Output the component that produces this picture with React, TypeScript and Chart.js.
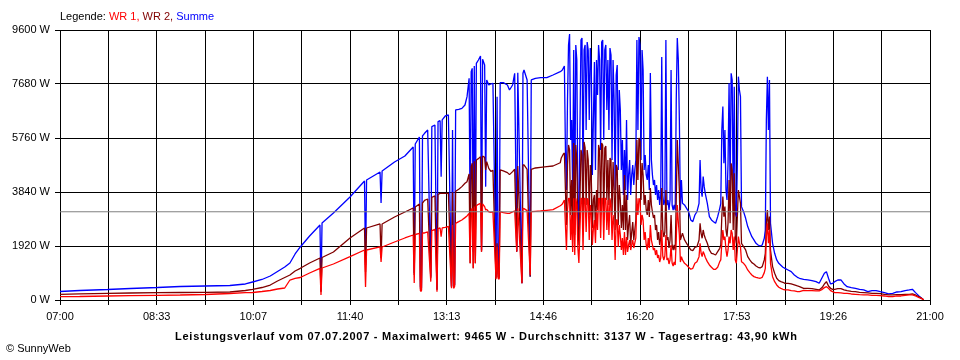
import React, { useEffect, useRef } from 'react';
import { Chart, registerables } from 'chart.js';

Chart.register(...registerables);

const FONT = '"Liberation Sans", Arial, sans-serif';

const X_LABELS = ['07:00', '08:33', '10:07', '11:40', '13:13', '14:46', '16:20', '17:53', '19:26', '21:00'];
const Y_TICKS = [0, 1920, 3840, 5760, 7680, 9600];
const X_SPAN_MIN = 840; // 07:00 .. 21:00 in minutes
const AVERAGE_W = 3137;

const TITLE = 'Leistungsverlauf vom 07.07.2007 - Maximalwert: 9465 W - Durchschnitt: 3137 W - Tagesertrag: 43,90 kWh';

// minutes after 07:00
const T = [
  0, 19, 46, 68, 94, 116, 140, 164, 179, 186, 195, 203, 210, 217, 222, 227, 232,
  241, 251, 252, 253, 264, 280, 294, 295, 296, 309, 310, 311, 323, 333, 341, 342, 343, 347, 348, 349, 350,
  352, 355, 358, 359, 362, 364, 365, 367, 368, 369, 372, 375, 378, 379, 380, 381, 382, 385, 388, 391,
  393, 395, 396, 397, 398, 399, 400, 401, 402, 404, 406, 407, 408, 410, 411, 412, 414, 416, 418, 421,
  422, 423, 424, 425, 428, 432, 434, 437, 439, 441, 442, 446, 447, 448, 451, 454, 455, 459, 464, 470, 476, 483,
  484, 485, 486, 487, 488, 489, 490, 491, 492, 493,
  494, 495, 496, 497, 498, 499, 500, 501, 502, 503,
  504, 505, 506, 507, 508, 509, 510, 511, 512, 513,
  514, 515, 516, 517, 518, 519, 520, 521, 522, 523,
  524, 525, 526, 527, 528, 529, 530, 531, 532, 533,
  534, 535, 536, 537, 538, 539, 540, 541, 542, 543,
  544, 545, 546, 547, 548, 549, 550, 551, 552, 553,
  554, 555, 556, 557, 558, 559, 560, 561, 562, 563,
  564, 565, 566, 567, 568, 569, 570, 571, 572, 573,
  574, 575, 576, 577, 578, 579, 580, 581, 582, 583,
  584, 585, 586, 587, 588, 589, 590, 591, 592, 593,
  594, 595, 596, 597, 598, 599,
  600, 601, 603, 605, 607, 609, 611, 613, 615, 617, 618, 619, 620, 621, 622, 623, 625, 627, 629, 631,
  633, 635, 637, 638, 639, 640, 641, 642, 643, 644, 645, 646, 647, 648, 649, 650, 651, 652, 653, 654,
  655, 656, 657, 658, 660, 662, 664, 666, 668, 670, 672, 674, 676, 678, 680, 681, 682, 683, 684, 685,
  686, 688, 690, 692, 694, 696, 698, 700, 703, 706, 709, 712, 714,
  718, 722, 726, 730, 733, 736, 738, 740, 742, 744, 746, 748, 751, 754, 757, 760, 764, 768, 772, 776,
  780, 784, 788, 792, 796, 800, 804, 808, 812, 816, 820, 823, 826, 829, 832, 834,
];

// Summe (W)
const SUMME = [
  302, 338, 373, 409, 444, 480, 498, 516, 569, 640, 729, 853, 1013, 1173, 1316, 1636, 1885,
  2276, 2667, 320, 2738, 3094, 3663, 4232, 1245, 4267, 4552, 3449, 4587, 4907, 5121, 5441, 960, 5547, 5796, 462, 427, 5832,
  5927, 6045, 831, 6164, 6223, 381, 6341, 6377, 4386, 6401, 6543, 6578, 476, 6045, 476, 535, 6756, 6780, 6815, 6934,
  7230, 7882, 2727, 8119, 8237, 1720, 8320, 2016, 8415, 8534, 8676, 1779, 8557, 8356, 4031, 7823, 7645, 7680, 7704, 831,
  7230, 950, 831, 7728, 7728, 7645, 7467, 7645, 8060, 1720, 8083, 594, 8060, 8178, 7823, 831, 7823, 7882, 7905, 7905, 8000, 8119,
  8143, 8179, 8250, 8321, 5334, 3912, 7112, 9068, 9459, 5690,
  6401, 3912, 8890, 2667, 9068, 8534, 3556, 2489, 6045, 9246,
  9317, 3983, 8890, 9068, 6045, 9174, 8890, 6401, 8961, 8179,
  4445, 6401, 8463, 4623, 8534, 7290, 9068, 8534, 5334, 9174,
  9246, 5690, 8890, 9068, 6756, 8534, 6045, 8961, 8712, 4978,
  8534, 7112, 3912, 8001, 8357, 4623, 7468, 6756, 4623, 5690,
  3734, 5334, 3912, 6401, 3556, 4445, 4978, 3734, 4445, 4801,
  4089, 4623, 4978, 9246, 6045, 9352, 9068, 4978, 8890, 8179,
  4623, 5156, 4445, 4267, 4801, 3912, 8072, 4978, 4445, 4089,
  4267, 3734, 4089, 3556, 3912, 3378, 3734, 8641, 3734, 3378,
  3556, 9246, 3378, 3556, 3200, 3556, 8179, 3378, 3200, 3378,
  3200, 7112, 9317, 8534, 6401, 3200,
  4268, 3438, 3379, 3260, 3142, 2846, 2786, 3023, 3142, 3438, 4979, 3912, 3675, 4386, 4031, 3794, 3438, 2964, 2846, 2786,
  2727, 2964, 3260, 3438, 6045, 6876, 4860, 6045, 3912, 3557, 4860, 7704, 3912, 8060, 7823, 3438, 7586, 3083, 2964, 4860,
  7941, 7467, 7230, 3320, 3142, 2905, 2609, 2431, 2253, 2135, 2016, 1957, 1921, 1957, 2194, 2490, 6401, 7941, 6045, 7823,
  2727, 2016, 1661, 1424, 1305, 1234, 1163, 1127, 1068, 1009, 890, 807, 772,
  736, 712, 688, 653, 594, 807, 949, 1008, 771, 570, 594, 653, 712, 712, 570, 475, 440, 416, 380, 357,
  297, 333, 333, 297, 262, 214, 238, 285, 297, 333, 357, 380, 262, 155, 60, 0,
];

// WR 2 (W)
const WR2 = [
  203, 220, 238, 249, 260, 267, 274, 284, 338, 380, 444, 533, 676, 800, 889, 1031, 1127,
  1316, 1494, 284, 1511, 1707, 2205, 2560, 996, 2560, 2703, 1494, 2703, 2951, 3129, 3272, 889, 3307, 3414, 391, 356, 3449,
  3545, 3592, 772, 3651, 3699, 357, 3758, 3794, 3794, 3794, 3794, 3794, 476, 3829, 476, 535, 3865, 3936, 4031, 4149,
  4208, 4481, 1305, 4742, 4860, 1127, 4931, 1305, 4979, 5026, 5097, 1720, 5121, 5073, 4623, 4919, 4682, 4576, 4611, 772,
  2016, 831, 772, 4623, 4588, 4528, 4457, 4564, 4647, 1720, 4765, 594, 4801, 4801, 4647, 831, 4647, 4694, 4718, 4742, 4765, 4880,
  5050, 5121, 5192, 5227, 3912, 2667, 4801, 5512, 5334, 3023,
  4267, 2560, 5583, 2311, 5512, 4978, 2667, 1956, 3556, 5334,
  5156, 2489, 5619, 5405, 3378, 5334, 4978, 3023, 4801, 4267,
  2560, 3556, 3734, 2489, 3912, 3200, 5512, 5334, 3023, 5583,
  5512, 2845, 5405, 5476, 3556, 4978, 3378, 5050, 4978, 3023,
  4907, 3912, 2489, 4801, 4694, 2667, 4089, 3556, 2560, 3378,
  2489, 4445, 2489, 3734, 2133, 2667, 3023, 1956, 2418, 2774,
  2133, 2489, 2845, 5690, 4267, 5761, 5619, 3556, 4872, 4445,
  3378, 3734, 3200, 3023, 3556, 2951, 3983, 3378, 3129, 2916,
  3023, 2489, 2667, 2133, 2418, 1956, 2205, 3983, 2489, 2240,
  2418, 3912, 2133, 2240, 1849, 2133, 3023, 1956, 1778, 1956,
  1778, 3556, 5690, 4801, 3912, 2133,
  2253, 2372, 2135, 2016, 1898, 1779, 1755, 1874, 1898, 2135, 2727, 2372, 2194, 2490, 2312, 2194, 2016, 1779, 1661, 1637,
  1601, 1720, 1838, 1957, 2964, 3675, 2964, 3320, 2490, 2253, 2727, 4268, 2727, 4860, 4623, 2490, 4505, 2253, 2016, 2964,
  3912, 3675, 3438, 2016, 1898, 1779, 1542, 1424, 1329, 1281, 1210, 1163, 1139, 1187, 1424, 1661, 2727, 3201, 2490, 2964,
  1779, 1187, 950, 772, 689, 653, 630, 594, 594, 570, 535, 499, 476,
  416, 416, 404, 380, 357, 451, 570, 653, 499, 416, 380, 380, 404, 404, 357, 333, 309, 297, 274, 262,
  250, 238, 238, 226, 202, 179, 179, 190, 190, 202, 202, 214, 179, 119, 60, 0,
];

// WR 1 (W)
const WR1 = [
  117, 124, 142, 153, 167, 178, 196, 231, 260, 267, 302, 338, 391, 427, 711, 765, 800,
  960, 1127, 178, 1138, 1280, 1540, 1778, 462, 1778, 1885, 1351, 1885, 2062, 2205, 2311, 605, 2329, 2365, 320, 320, 2383,
  2383, 2419, 653, 2466, 2514, 298, 2537, 2561, 2253, 2561, 2585, 2620, 416, 2668, 416, 476, 2727, 2786, 2846, 2929,
  2988, 3083, 1305, 3201, 3260, 1127, 3320, 1305, 3355, 3402, 3438, 1720, 3414, 3320, 3201, 3225, 3130, 3118, 3130, 736,
  1898, 772, 736, 3142, 3106, 3083, 3083, 3130, 3166, 1720, 3260, 594, 3260, 3248, 3177, 890, 3142, 3154, 3166, 3189, 3213, 3350,
  3378, 3414, 3485, 3556, 2667, 1778, 3200, 3616, 3616, 2133,
  3023, 1707, 3616, 1600, 3616, 3378, 1849, 1316, 2489, 3616,
  3616, 1778, 3616, 3616, 2418, 3616, 3556, 2133, 3378, 3023,
  1956, 2560, 2845, 2027, 3200, 2489, 3616, 3616, 2205, 3616,
  3616, 2133, 3616, 3616, 2489, 3556, 2311, 3616, 3378, 2133,
  3023, 2667, 1422, 2845, 2845, 1885, 2667, 2311, 1778, 2205,
  1600, 2418, 1600, 2240, 1707, 1956, 2133, 1778, 1956, 2133,
  1849, 2027, 2205, 3616, 3023, 3616, 3556, 2667, 3023, 2845,
  2133, 2418, 1956, 1778, 2205, 1849, 2667, 2133, 1956, 1778,
  1849, 1600, 1778, 1494, 1600, 1351, 1494, 2489, 1565, 1422,
  1565, 2311, 1422, 1494, 1280, 1422, 1956, 1316, 1209, 1351,
  1245, 2133, 3378, 2774, 2311, 1351,
  1542, 1424, 1305, 1246, 1163, 1092, 1127, 1305, 1364, 1542, 2016, 1661, 1542, 1720, 1637, 1518, 1364, 1246, 1163, 1092,
  1092, 1163, 1364, 1424, 2016, 2490, 2135, 2253, 1779, 1542, 1779, 2253, 2016, 2490, 2372, 1779, 2253, 1424, 1305, 1779,
  2253, 2016, 1898, 1364, 1305, 1210, 1068, 973, 890, 831, 807, 784, 772, 807, 973, 1127, 2253, 2727, 2016, 2490,
  1305, 831, 653, 535, 452, 416, 381, 357, 357, 333, 321, 298, 298,
  345, 333, 333, 321, 321, 380, 440, 475, 416, 333, 297, 262, 262, 250, 238, 238, 214, 202, 190, 179,
  179, 167, 167, 155, 143, 119, 119, 143, 143, 167, 179, 179, 143, 95, 48, 0,
];

function pts(values: number[]) {
  return T.map((t, i) => ({ x: t, y: values[i] }));
}

export default function App() {
  const ref = useRef<HTMLCanvasElement | null>(null);

  useEffect(() => {
    const canvas = ref.current;
    if (!canvas) return;
    const steps = (X_LABELS.length - 1) * 2;
    const tickFont = { family: FONT, size: 11 };
    const lineStyle = { borderWidth: 1.3, borderJoinStyle: 'bevel' as const, borderCapStyle: 'butt' as const };
    const chart = new Chart(canvas, {
      type: 'line',
      data: {
        datasets: [
          {
            label: 'Durchschnitt',
            data: [{ x: 0, y: AVERAGE_W }, { x: X_SPAN_MIN, y: AVERAGE_W }],
            borderColor: '#808080',
            borderWidth: 1,
          },
          { label: 'WR 1', data: pts(WR1), borderColor: '#ff0000', ...lineStyle },
          { label: 'WR 2', data: pts(WR2), borderColor: '#800000', ...lineStyle },
          { label: 'Summe', data: pts(SUMME), borderColor: '#0000ff', ...lineStyle },
        ],
      },
      options: {
        animation: false,
        responsive: false,
        maintainAspectRatio: false,
        events: [],
        elements: { point: { radius: 0 }, line: { tension: 0 } },
        layout: { padding: { left: 0, right: 30, top: 30, bottom: 0 } },
        plugins: { legend: { display: false }, tooltip: { enabled: false }, title: { display: false } },
        scales: {
          x: {
            type: 'linear',
            min: 0,
            max: X_SPAN_MIN,
            z: 1,
            afterBuildTicks: (scale: any) => {
              const arr = [];
              for (let i = 0; i <= steps; i++) arr.push({ value: (i * X_SPAN_MIN) / steps });
              scale.ticks = arr;
            },
            afterFit: (scale: any) => {
              scale.height = 60;
            },
            ticks: {
              autoSkip: false,
              maxRotation: 0,
              minRotation: 0,
              padding: 5,
              color: '#000',
              font: tickFont,
              callback: (_v: any, i: number) => (i % 2 === 0 ? X_LABELS[i / 2] : ''),
            },
            grid: { color: '#000', lineWidth: 1, tickLength: 5, drawTicks: true },
            border: { color: '#000', width: 1 },
          },
          y: {
            type: 'linear',
            min: 0,
            max: 9600,
            z: 1,
            afterBuildTicks: (scale: any) => {
              scale.ticks = Y_TICKS.map((v) => ({ value: v }));
            },
            afterFit: (scale: any) => {
              scale.width = 60;
            },
            ticks: {
              padding: 5,
              color: '#000',
              font: tickFont,
              callback: (v: any) => `${v} W`,
            },
            grid: { color: '#000', lineWidth: 1, tickLength: 5, drawTicks: true },
            border: { color: '#000', width: 1 },
          },
        },
      },
    });
    return () => chart.destroy();
  }, []);

  return (
    <div
      style={{
        position: 'fixed',
        left: 0,
        top: 0,
        width: 960,
        height: 360,
        background: '#fff',
        fontFamily: FONT,
        color: '#000',
      }}
    >
      <canvas ref={ref} width={960} height={360} style={{ position: 'absolute', left: 0, top: 0, width: 960, height: 360 }} />
      <div style={{ position: 'absolute', left: 60, top: 10, fontSize: 11, lineHeight: '13px', whiteSpace: 'nowrap' }}>
        Legende: <span style={{ color: '#ff0000' }}>WR 1,</span> <span style={{ color: '#800000' }}>WR 2,</span>{' '}
        <span style={{ color: '#0000ff' }}>Summe</span>
      </div>
      <div
        style={{
          position: 'absolute',
          left: 175,
          top: 330,
          fontSize: 11,
          lineHeight: '13px',
          fontWeight: 'bold',
          letterSpacing: '0.75px',
          whiteSpace: 'nowrap',
        }}
      >
        {TITLE}
      </div>
      <div style={{ position: 'absolute', left: 6, top: 342, fontSize: 11, lineHeight: '13px', whiteSpace: 'nowrap' }}>
        © SunnyWeb
      </div>
    </div>
  );
}
